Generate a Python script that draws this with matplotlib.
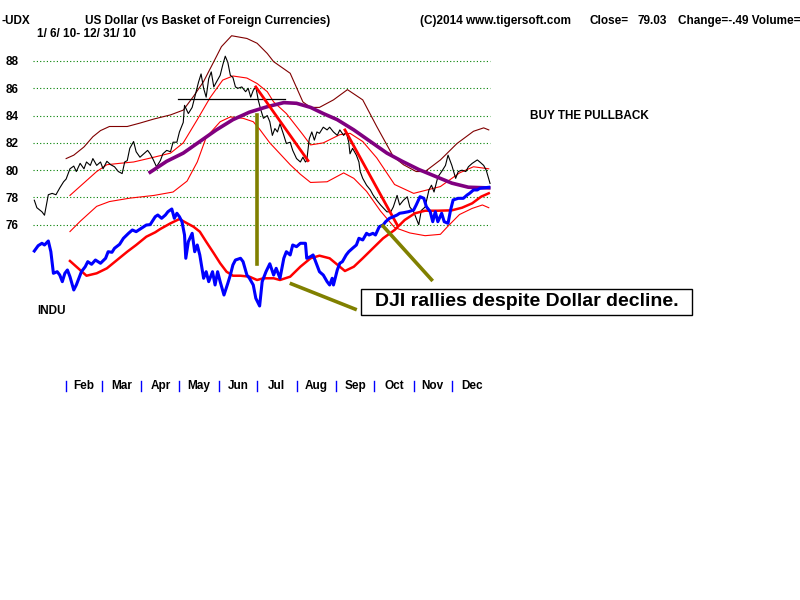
import matplotlib
matplotlib.use("Agg")
import matplotlib.pyplot as plt
import matplotlib.transforms as mtransforms
from matplotlib.patches import Rectangle

plt.rcParams['font.family'] = ['Liberation Sans', 'DejaVu Sans']

# ---- data (x = day of year 2010) ----
usd_day = [7, 9, 13, 15, 18, 21, 24, 27, 30, 32, 35, 38, 40, 43, 46, 48, 51, 53, 56, 59,
           61, 64, 67, 70, 73, 76, 78, 80, 82, 85, 87, 90, 93, 96, 98, 100, 103, 106, 108, 111,
           114, 116, 119, 121, 124, 125, 128, 131, 133, 136, 138, 140, 142, 144, 146, 148, 150, 153, 155, 157,
           159, 161, 163, 165, 167, 170, 173, 175, 177, 179, 181, 183, 185, 187, 190, 192, 194, 196, 198, 200,
           203, 205, 208, 210, 213, 216, 218, 220, 221, 223, 225, 227, 229, 231, 234, 237, 239, 242, 245, 247,
           250, 252, 254, 255, 257, 260, 262, 263, 265, 268, 271, 273, 276, 279, 281, 284, 287, 289, 292, 294,
           297, 300, 302, 305, 309, 311, 314, 317, 319, 321, 324, 327, 330, 332, 335, 338, 340, 343, 346, 348,
           351, 355, 357, 360, 362, 365]
usd_close = [77.8, 77.25, 76.95, 76.7, 78.2, 78.3, 78.2, 78.7, 79.15, 79.35, 80.1, 80.3, 79.9, 80.5, 80.1, 80.6, 80.35, 80.85, 80.35, 80.6,
             80.1, 80.65, 80.4, 80.25, 79.9, 79.75, 80.6, 80.7, 81.6, 82.1, 81.35, 80.95, 81.2, 81.45, 81.2, 80.85, 80.25, 80.7, 81.2, 81.45,
             81.35, 82.05, 82.05, 82.8, 83.5, 84.75, 84.15, 84.6, 85.35, 86.45, 87.05, 86.0, 85.35, 86.7, 87.2, 86.1, 86.45, 86.95, 87.7, 88.35,
             87.9, 86.95, 86.8, 86.1, 86.0, 86.1, 85.75, 86.0, 85.35, 85.85, 86.1, 85.1, 84.4, 83.8, 84.0, 83.55, 82.55, 83.05, 82.8, 83.4,
             82.55, 81.95, 82.05, 81.45, 80.85, 80.6, 80.95, 80.6, 80.7, 82.3, 82.8, 82.2, 82.8, 82.7, 83.15, 82.95, 83.15, 82.8, 82.55, 82.95,
             82.55, 82.8, 82.05, 81.2, 81.6, 81.1, 80.6, 79.9, 79.4, 78.9, 78.55, 78.2, 77.8, 77.45, 77.25, 76.95, 76.95, 77.3, 78.15, 77.45,
             77.8, 78.05, 77.3, 76.95, 76.0, 77.05, 77.3, 78.55, 78.9, 78.4, 79.5, 79.9, 80.35, 81.1, 80.35, 79.4, 79.9, 80.0, 79.9, 80.25,
             80.5, 80.75, 80.6, 80.35, 80.0, 79.03]

usd_ma_day = [98, 111, 124, 137, 150, 163, 176, 190, 203, 213, 224, 234, 245, 258, 271, 284, 296, 309, 322, 335, 348, 364]
usd_ma = [79.85, 80.65, 81.25, 82.1, 82.95, 83.7, 84.25, 84.65, 84.95, 84.9, 84.6, 84.15, 83.7, 82.95, 82.1, 81.25, 80.65, 80.05,
          79.55, 79.05, 78.75, 78.7]

outer_day = [32, 38, 46, 53, 59, 66, 80, 90, 101, 114, 124, 132, 140, 148, 154, 162, 174, 182, 190, 195,
             208, 218, 224, 231, 242, 253, 265, 276, 289, 297, 307, 314, 326, 339, 352, 360, 364]
outer_band = [80.85, 81.1, 81.7, 82.45, 82.9, 83.2, 83.2, 83.45, 83.75, 84.05, 84.4, 85.4, 86.5, 87.95, 89.05, 89.85, 89.65, 89.3, 88.55, 87.95,
              87.1, 85.0, 84.6, 84.6, 85.15, 85.9, 85.15, 83.2, 81.0, 80.4, 79.9, 79.9, 80.75, 81.95, 82.85, 83.1, 82.95]

upper_day = [35, 47, 56, 64, 74, 85, 101, 114, 124, 135, 145, 155, 163, 174, 182, 190, 195, 205, 218, 224,
             234, 247, 255, 265, 276, 290, 305, 326, 341, 352, 364]
upper_band = [78.15, 79.15, 79.9, 80.4, 80.5, 80.6, 80.95, 81.25, 82.0, 83.7, 85.3, 86.6, 86.9, 86.75, 86.35, 85.75, 85.0, 84.15, 82.6, 81.85,
              82.0, 82.6, 82.7, 82.1, 80.9, 78.95, 78.3, 78.8, 79.8, 80.25, 80.1]

lower_day = [35, 43, 56, 66, 82, 101, 116, 127, 135, 142, 153, 161, 171, 179, 184, 192, 200, 208, 216, 224,
             237, 250, 258, 268, 279, 290, 302, 314, 326, 332, 341, 351, 359, 364]
lower_band = [75.5, 76.25, 77.35, 77.7, 77.95, 78.15, 78.4, 79.2, 80.6, 82.4, 83.55, 83.9, 83.8, 83.55, 83.0, 82.0, 81.2, 80.4, 79.7, 79.1,
              79.15, 79.8, 79.4, 78.45, 77.0, 75.8, 75.4, 75.2, 75.3, 75.9, 76.75, 77.2, 77.45, 77.25]

indu_day = [7, 10, 13, 15, 18, 20, 22, 25, 27, 29, 31, 33, 35, 38, 40, 42, 44, 47, 49, 52,
            55, 59, 63, 65, 68, 70, 74, 77, 81, 84, 87, 91, 95, 98, 102, 104, 107, 110, 112, 115,
            117, 119, 121, 123, 125, 126, 128, 131, 133, 135, 137, 140, 142, 144, 147, 149, 151, 153, 156, 159,
            161, 163, 165, 169, 171, 174, 176, 179, 181, 184, 186, 189, 192, 195, 197, 200, 203, 205, 208, 210,
            213, 216, 220, 221, 224, 226, 229, 231, 234, 237, 239, 241, 242, 245, 247, 249, 252, 254, 257, 260,
            262, 265, 268, 270, 273, 275, 278, 281, 283, 286, 289, 292, 294, 297, 301, 305, 307, 310, 313, 315,
            318, 320, 322, 324, 327, 329, 332, 334, 336, 340, 344, 347, 349, 352, 355, 357, 361, 364]
indu_close = [10547, 10630, 10668, 10641, 10704, 10536, 10198, 10223, 10171, 10067, 10198, 10250, 10145, 9937, 10015, 10120, 10223, 10301, 10380, 10339,
              10406, 10355, 10433, 10536, 10527, 10590, 10652, 10746, 10824, 10876, 10850, 10903, 10954, 10960, 11084, 11111, 11059, 11111, 11163, 11205,
              11059, 11138, 11084, 11006, 10798, 10433, 10693, 10824, 10536, 10641, 10485, 10120, 10223, 10067, 10223, 10015, 10223, 10067, 9858, 10041,
              10171, 10328, 10406, 10433, 10380, 10171, 10120, 10015, 9807, 9686, 10067, 10223, 10347, 10171, 10276, 10120, 10433, 10536, 10485, 10641,
              10615, 10668, 10668, 10433, 10459, 10485, 10328, 10223, 10171, 10067, 10015, 10120, 10015, 10250, 10355, 10380, 10485, 10536, 10590, 10641,
              10746, 10720, 10824, 10798, 10824, 10798, 10928, 10954, 11006, 11059, 11084, 11111, 11138, 11147, 11163, 11189, 11268, 11398, 11372, 11241,
              11163, 11006, 11163, 11006, 11138, 11006, 10981, 11189, 11346, 11372, 11372, 11424, 11451, 11503, 11503, 11529, 11539, 11545]

indu_ma_day = [35, 48, 56, 64, 72, 80, 87, 95, 102, 106, 114, 121, 127, 132, 137, 142, 148, 153, 158, 163,
               169, 176, 182, 187, 195, 200, 208, 216, 224, 231, 239, 247, 251, 258, 265, 273, 281, 290, 298, 306,
               314, 324, 335, 343, 351, 358, 364]
indu_ma = [10391, 10160, 10198, 10276, 10406, 10536, 10641, 10771, 10840, 10892, 10981, 11048, 10981, 10928, 10850, 10693, 10511, 10355, 10223, 10160,
           10160, 10145, 10093, 10120, 10120, 10093, 10145, 10301, 10433, 10474, 10433, 10301, 10234, 10301, 10433, 10590, 10746, 10876, 11033, 11138,
           11178, 11178, 11184, 11225, 11294, 11398, 11451]

grid_levels = [76, 78, 80, 82, 84, 86, 88]
month_starts = [32, 60, 91, 121, 152, 182, 213, 244, 274, 305, 335, 366]
month_names = ['Feb', 'Mar', 'Apr', 'May', 'Jun', 'Jul', 'Aug', 'Sep', 'Oct', 'Nov', 'Dec']

# annotation segments (day, dollar value)
support_line = ([120, 204], [85.25, 85.25])
trend1 = ([181, 222], [86.1, 80.7])
trend2 = ([251, 292], [82.95, 76.0])
pointer_v = ([182, 182], [84.05, 73.1])
pointer1 = ([281, 319], [75.9, 71.98])
pointer2 = ([209, 259], [71.67, 69.82])

W, H = 800, 600
fig = plt.figure(figsize=(8, 6), dpi=100)
fig.patch.set_facecolor('white')
ax = fig.add_axes([25.4 / W, 1 - 330 / H, 471 / W, 300 / H])
ax.set_xlim(0, 370)
ax.set_ylim(68.29, 90.27)
for s in ax.spines.values():
    s.set_visible(False)
ax.set_xticks([])
ax.set_yticks(grid_levels)
ax.set_yticklabels([str(v) for v in grid_levels], fontsize=8.5, fontweight='bold')
ax.tick_params(axis='y', length=0, pad=5)
ax.patch.set_alpha(0)

ax.hlines(grid_levels, 6, 365, colors='#008000', linestyles=(0, (1, 2)), lw=0.8)

ax.plot(outer_day, outer_band, color='#800000', lw=0.8)
ax.plot(upper_day, upper_band, color='#ff0000', lw=0.8)
ax.plot(lower_day, lower_band, color='#ff0000', lw=0.8)
ax.plot(usd_day, usd_close, color='black', lw=0.8)
ax.plot(usd_ma_day, usd_ma, color='#800080', lw=2.6)
ax.plot(*support_line, color='black', lw=0.9)
ax.plot(*trend1, color='#ff0000', lw=2)
ax.plot(*trend2, color='#ff0000', lw=2)

ax2 = ax.twinx()
ax2.set_ylim(9310, 14008)
ax2.set_axis_off()
ax2.plot(indu_ma_day, indu_ma, color='#ff0000', lw=1.8)
ax2.plot(indu_day, indu_close, color='#0000ff', lw=2.2)
for seg in (pointer_v, pointer1, pointer2):
    ax2.plot(*seg, color='#808000', lw=2.6, transform=ax.transData)

# month axis
trans = mtransforms.blended_transform_factory(ax.transData, fig.transFigure)
for d in month_starts[:-1]:
    ax.plot([d, d], [1 - 381 / H, 1 - 391 / H], color='#0000ff', lw=1.0,
            transform=trans, clip_on=False)
for i, name in enumerate(month_names):
    mid = (month_starts[i] + month_starts[i + 1]) / 2
    ax.text(mid, 1 - 386 / H, name, transform=trans, ha='center', va='center',
            fontsize=8.5, fontweight='bold')


def ftext(x, y, s, **kw):
    kw.setdefault('fontsize', 8.5)
    kw.setdefault('fontweight', 'bold')
    kw.setdefault('va', 'center')
    fig.text(x / W, 1 - y / H, s, **kw)


ftext(1, 21, '-UDX')
ftext(85, 21, 'US Dollar (vs Basket of Foreign Currencies)')
ftext(37, 34, '1/ 6/ 10- 12/ 31/ 10')
ftext(420, 21, '(C)2014 www.tigersoft.com')
ftext(590, 21, 'Close=')
ftext(637, 21, '79.03')
ftext(678, 21, 'Change=-.49 Volume=')
ftext(530, 116, 'BUY THE PULLBACK')
ftext(37, 311, 'INDU')

# callout box
fig.patches.append(Rectangle((361 / W, 1 - 315 / H), 331 / W, 26 / H, transform=fig.transFigure,
                             facecolor='white', edgecolor='black', lw=1))
ftext(527, 302, 'DJI rallies despite Dollar decline.', fontsize=14, ha='center')

fig.savefig('out.png', dpi=100)
